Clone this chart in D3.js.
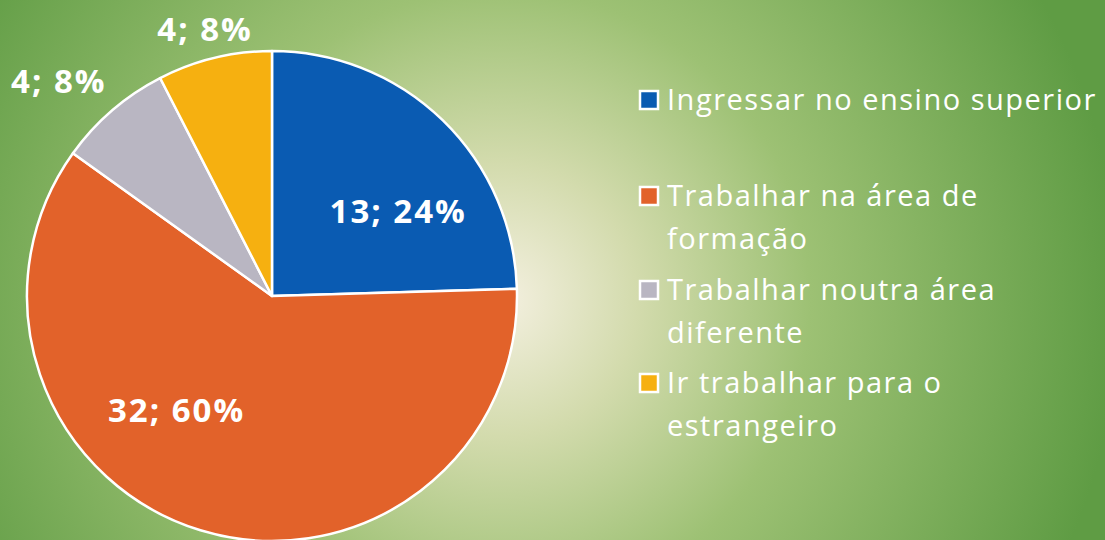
<!DOCTYPE html>
<html lang="pt">
<head>
  <meta charset="UTF-8">
  <title>Pie chart</title>
  <script src="https://cdn.jsdelivr.net/npm/d3@7"></script>
  <style>
    html, body { margin: 0; padding: 0; }
    svg text { fill: white; font-family: "Open Sans", Lato, sans-serif; }
  </style>
</head>
<body>
<script>
  var categories = ["Ingressar no ensino superior", "Trabalhar na área de formação",
                    "Trabalhar noutra área diferente", "Ir trabalhar para o estrangeiro"];
  var values = [13, 32, 4, 4];
  var percents = ["24%", "60%", "8%", "8%"];
  // legend text broken into lines the way the reference wraps them
  var legendLines = [["Ingressar no ensino superior"], ["Trabalhar na área de", "formação"],
                     ["Trabalhar noutra área", "diferente"], ["Ir trabalhar para o", "estrangeiro"]];
  var colours = ["#0a5bb2", "#e2622a", "#b9b6c2", "#f6b010"];

  var width = 1105, height = 540;
  var cx = 272, cy = 296, radius = 245;

  var svg = d3.select("body").append("svg")
      .attr("width", width).attr("height", height);

  // background: light centre fading to green
  var defs = svg.append("defs");
  var grad = defs.append("radialGradient").attr("id", "bg")
      .attr("gradientUnits", "userSpaceOnUse")
      .attr("cx", 500).attr("cy", 300).attr("r", 620);
  grad.append("stop").attr("offset", "0%").attr("stop-color", "#f4f0e0");
  grad.append("stop").attr("offset", "22%").attr("stop-color", "#d3dbad");
  grad.append("stop").attr("offset", "50%").attr("stop-color", "#9dc174");
  grad.append("stop").attr("offset", "100%").attr("stop-color", "#5f9c44");
  svg.append("rect").attr("width", width).attr("height", height).attr("fill", "url(#bg)");

  var pie = d3.pie().sort(null).value(function(d) { return d; });
  var arcs = pie(values);
  var arc = d3.arc().innerRadius(0).outerRadius(radius);

  var g = svg.append("g").attr("transform", "translate(" + cx + "," + cy + ")");

  g.selectAll("path")
    .data(arcs)
    .enter().append("path")
      .attr("d", arc)
      .attr("fill", function(d, i) { return colours[i]; })
      .attr("stroke", "white")
      .attr("stroke-width", 2.5)
      .attr("stroke-linejoin", "round");

  // label anchor: inside labels are nudged like Excel's best fit, outer ones sit past the rim
  var labelAngle = [56, 220, 315, 345.7];   // degrees clockwise from top
  var labelRadius = [151, 150, 303, 275];

  g.selectAll("text.lbl")
    .data(arcs)
    .enter().append("text")
      .attr("class", "lbl")
      .attr("x", function(d, i) { return labelRadius[i] * Math.sin(labelAngle[i] * Math.PI / 180) + 1; })
      .attr("y", function(d, i) { return -labelRadius[i] * Math.cos(labelAngle[i] * Math.PI / 180); })
      .attr("dy", "0.35em")
      .attr("text-anchor", "middle")
      .style("font-size", "33px")
      .style("font-weight", "bold")
      .style("letter-spacing", "2px")
      .text(function(d, i) { return values[i] + "; " + percents[i]; });

  // legend
  var legendX = 640, lineH = 43;
  var legendTop = [100, 196, 290, 383];

  var leg = svg.selectAll("g.legend")
    .data(categories)
    .enter().append("g")
      .attr("class", "legend")
      .attr("transform", function(d, i) { return "translate(" + legendX + "," + legendTop[i] + ")"; });

  leg.append("rect")
    .attr("x", 0).attr("y", -9)
    .attr("width", 18).attr("height", 18)
    .attr("fill", function(d, i) { return colours[i]; })
    .attr("stroke", "white")
    .attr("stroke-width", 2.5);

  leg.each(function(d, i) {
    var t = d3.select(this).append("text")
      .attr("x", 27).attr("y", 0)
      .style("font-size", "29px")
      .style("letter-spacing", "1.5px");
    legendLines[i].forEach(function(line, j) {
      t.append("tspan").attr("x", 27).attr("dy", j === 0 ? "0.35em" : lineH).text(line);
    });
  });
</script>
</body>
</html>
